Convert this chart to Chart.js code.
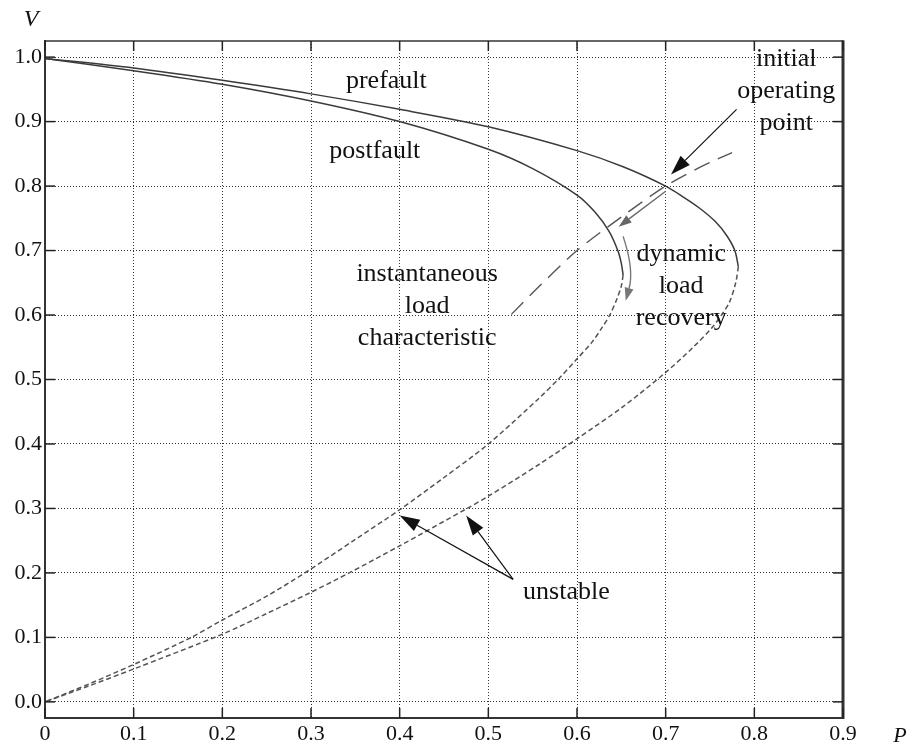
<!DOCTYPE html>
<html><head><meta charset="utf-8">
<script src="https://cdn.jsdelivr.net/npm/chart.js@4/dist/chart.umd.min.js"></script>
<style>html,body{margin:0;padding:0;background:#fff}#wrap{width:912px;height:746px;position:relative}</style>
</head><body><div id="wrap"><canvas id="c" width="912" height="746"></canvas></div>
<script>
// ---- tick values / labels ----
const xTickValues = [0, 0.1, 0.2, 0.3, 0.4, 0.5, 0.6, 0.7, 0.8, 0.9];
const xTickLabels = ["0", "0.1", "0.2", "0.3", "0.4", "0.5", "0.6", "0.7", "0.8", "0.9"];
const yTickValues = [0, 0.1, 0.2, 0.3, 0.4, 0.5, 0.6, 0.7, 0.8, 0.9, 1.0];
const yTickLabels = ["0.0", "0.1", "0.2", "0.3", "0.4", "0.5", "0.6", "0.7", "0.8", "0.9", "1.0"];

// ---- prefault PV curve ----
const prefaultStableP = [0, 0.1, 0.2, 0.3, 0.4, 0.5, 0.6, 0.652, 0.70, 0.72, 0.738, 0.756, 0.769, 0.778, 0.782];
const prefaultStableV = [0.998, 0.983, 0.964, 0.943, 0.919, 0.892, 0.855, 0.830, 0.800, 0.783, 0.766, 0.745, 0.723, 0.700, 0.675];
const prefaultUnstableP = [0.782, 0.779, 0.772, 0.763, 0.752, 0.731, 0.70, 0.652, 0.6, 0.558, 0.5, 0.476, 0.4, 0.343, 0.3, 0.25, 0.2, 0.1, 0.05, 0];
const prefaultUnstableV = [0.675, 0.650, 0.620, 0.600, 0.580, 0.550, 0.511, 0.458, 0.408, 0.369, 0.319, 0.300, 0.242, 0.200, 0.170, 0.137, 0.105, 0.051, 0.025, 0.000];

// ---- postfault PV curve ----
const postfaultStableP = [0, 0.1, 0.2, 0.3, 0.4, 0.5, 0.55, 0.6, 0.62, 0.636, 0.646, 0.650, 0.652];
const postfaultStableV = [0.998, 0.979, 0.958, 0.932, 0.900, 0.857, 0.827, 0.786, 0.760, 0.730, 0.700, 0.680, 0.662];
const postfaultUnstableP = [0.652, 0.650, 0.645, 0.637, 0.628, 0.617, 0.6, 0.58, 0.558, 0.5, 0.45, 0.4, 0.35, 0.293, 0.25, 0.2, 0.165, 0.1, 0.05, 0];
const postfaultUnstableV = [0.662, 0.645, 0.625, 0.600, 0.580, 0.558, 0.532, 0.502, 0.472, 0.400, 0.348, 0.298, 0.252, 0.200, 0.164, 0.127, 0.100, 0.058, 0.028, 0.000];

// ---- instantaneous load characteristic ----
const loadCharP = [0.526, 0.56, 0.6, 0.65, 0.70, 0.74, 0.775];
const loadCharV = [0.601, 0.648, 0.700, 0.752, 0.800, 0.830, 0.852];

// ---- annotations (data coordinates) ----
const textNotes = [
  { lines: ["prefault"], p: 0.385, v: 0.952 },
  { lines: ["postfault"], p: 0.372, v: 0.844 },
  { lines: ["initial", "operating", "point"], p: 0.836, v: 0.986 },
  { lines: ["instantaneous", "load", "characteristic"], p: 0.431, v: 0.653 },
  { lines: ["dynamic", "load", "recovery"], p: 0.7175, v: 0.684 },
  { lines: ["unstable"], p: 0.588, v: 0.160 }
];
const arrowNotes = [
  { from: [0.780, 0.919], to: [0.706, 0.818], color: "#111", head: 20, half: 6.5, lw: 1.2 },
  { from: [0.528, 0.190], to: [0.400, 0.289], color: "#111", head: 20, half: 6.5, lw: 1.2 },
  { from: [0.528, 0.190], to: [0.475, 0.289], color: "#111", head: 20, half: 6.5, lw: 1.2 },
  { from: [0.700, 0.792], to: [0.647, 0.737], color: "#666", head: 13, half: 4.5, lw: 1.3 }
];
const curvedArrow = { from: [0.652, 0.722], ctrl: [0.6645, 0.671], to: [0.655, 0.622] };

const toXY = (ps, vs) => ps.map((p, i) => ({ x: p, y: vs[i] }));

const FONT = '"Liberation Serif", "Times New Roman", serif';

function drawArrow(ctx, x1, y1, x2, y2, color, lw, hl, hw) {
  const ang = Math.atan2(y2 - y1, x2 - x1);
  const bx = x2 - hl * Math.cos(ang), by = y2 - hl * Math.sin(ang);
  ctx.strokeStyle = color; ctx.fillStyle = color; ctx.lineWidth = lw; ctx.setLineDash([]);
  ctx.beginPath(); ctx.moveTo(x1, y1); ctx.lineTo(bx, by); ctx.stroke();
  ctx.beginPath(); ctx.moveTo(x2, y2);
  ctx.lineTo(bx + hw * Math.sin(ang), by - hw * Math.cos(ang));
  ctx.lineTo(bx - hw * Math.sin(ang), by + hw * Math.cos(ang));
  ctx.closePath(); ctx.fill();
}

const annotPlugin = {
  id: 'annot',
  afterDraw(chart) {
    const { ctx, chartArea: a, scales: { x, y } } = chart;
    ctx.save();
    ctx.setLineDash([]);
    ctx.strokeStyle = '#333';
    ctx.lineWidth = 1.5;
    ctx.beginPath(); ctx.moveTo(a.left, a.top); ctx.lineTo(a.right, a.top); ctx.stroke();
    ctx.lineWidth = 3;
    ctx.beginPath(); ctx.moveTo(a.right, a.top - 0.75); ctx.lineTo(a.right, a.bottom + 1); ctx.stroke();
    ctx.strokeStyle = '#222'; ctx.lineWidth = 1.5;
    const tl = 10;
    xTickValues.forEach(v => {
      const px = x.getPixelForValue(v);
      ctx.beginPath(); ctx.moveTo(px, a.bottom); ctx.lineTo(px, a.bottom - tl); ctx.stroke();
      ctx.beginPath(); ctx.moveTo(px, a.top); ctx.lineTo(px, a.top + tl); ctx.stroke();
    });
    yTickValues.forEach(v => {
      const py = y.getPixelForValue(v);
      ctx.beginPath(); ctx.moveTo(a.left, py); ctx.lineTo(a.left + tl, py); ctx.stroke();
      ctx.beginPath(); ctx.moveTo(a.right, py); ctx.lineTo(a.right - tl, py); ctx.stroke();
    });
    arrowNotes.forEach(n => {
      drawArrow(ctx, x.getPixelForValue(n.from[0]), y.getPixelForValue(n.from[1]),
        x.getPixelForValue(n.to[0]), y.getPixelForValue(n.to[1]), n.color, n.lw, n.head, n.half);
    });
    const c0 = [x.getPixelForValue(curvedArrow.from[0]), y.getPixelForValue(curvedArrow.from[1])];
    const c1 = [x.getPixelForValue(curvedArrow.ctrl[0]), y.getPixelForValue(curvedArrow.ctrl[1])];
    const c2 = [x.getPixelForValue(curvedArrow.to[0]), y.getPixelForValue(curvedArrow.to[1])];
    ctx.strokeStyle = '#777'; ctx.fillStyle = '#777'; ctx.lineWidth = 1.4;
    const ang = Math.atan2(c2[1] - c1[1], c2[0] - c1[0]);
    const hl = 13, hw = 4.5;
    const bx = c2[0] - hl * Math.cos(ang), by = c2[1] - hl * Math.sin(ang);
    ctx.beginPath(); ctx.moveTo(c0[0], c0[1]); ctx.quadraticCurveTo(c1[0], c1[1], bx, by); ctx.stroke();
    ctx.beginPath(); ctx.moveTo(c2[0], c2[1]);
    ctx.lineTo(bx + hw * Math.sin(ang), by - hw * Math.cos(ang));
    ctx.lineTo(bx - hw * Math.sin(ang), by + hw * Math.cos(ang));
    ctx.closePath(); ctx.fill();
    ctx.fillStyle = '#111';
    ctx.font = '26px ' + FONT;
    ctx.textAlign = 'center'; ctx.textBaseline = 'alphabetic';
    textNotes.forEach(n => {
      const px = x.getPixelForValue(n.p), py = y.getPixelForValue(n.v);
      n.lines.forEach((t, i) => ctx.fillText(t, px, py + i * 32));
    });
    ctx.font = 'italic 24px ' + FONT;
    ctx.textAlign = 'center';
    ctx.fillText('V', 31, 26);
    ctx.font = 'italic 22px ' + FONT;
    ctx.fillText('P', 900, 742);
    ctx.restore();
  }
};

const gridStyle = { color: '#333', lineWidth: 1, drawTicks: false };
const borderStyle = { display: true, color: '#333', width: 2, dash: [1, 2] };

new Chart(document.getElementById('c'), {
  type: 'scatter',
  data: {
    datasets: [
      { data: toXY(prefaultStableP, prefaultStableV), borderColor: '#3a3a3a', borderWidth: 1.5 },
      { data: toXY(prefaultUnstableP, prefaultUnstableV), borderColor: '#555', borderWidth: 1.5, borderDash: [5, 3] },
      { data: toXY(postfaultStableP, postfaultStableV), borderColor: '#3a3a3a', borderWidth: 1.5 },
      { data: toXY(postfaultUnstableP, postfaultUnstableV), borderColor: '#555', borderWidth: 1.5, borderDash: [5, 3] },
      { data: toXY(loadCharP, loadCharV), borderColor: '#555', borderWidth: 1.4, borderDash: [17, 9] }
    ].map(d => Object.assign({ showLine: true, pointRadius: 0, fill: false, tension: 0.3 }, d))
  },
  options: {
    responsive: false,
    animation: false,
    devicePixelRatio: 1,
    events: [],
    layout: { padding: { left: 0, right: 69, top: 41, bottom: 0 } },
    plugins: { legend: { display: false }, tooltip: { enabled: false }, title: { display: false } },
    scales: {
      x: {
        type: 'linear', min: 0, max: 0.9,
        grid: gridStyle, border: borderStyle,
        afterBuildTicks: s => { s.ticks = xTickValues.map(v => ({ value: v })); },
        afterFit: s => { s.height = 28; },
        ticks: {
          color: '#111', font: { family: FONT, size: 22 }, padding: 3, maxRotation: 0, autoSkip: false,
          callback: (v, i) => xTickLabels[i]
        }
      },
      y: {
        type: 'linear', min: -0.025, max: 1.025,
        grid: gridStyle, border: borderStyle,
        afterBuildTicks: s => { s.ticks = yTickValues.map(v => ({ value: v })); },
        afterFit: s => { s.width = 45; },
        ticks: {
          color: '#111', font: { family: FONT, size: 22 }, padding: 3, autoSkip: false,
          callback: (v, i) => yTickLabels[i]
        }
      }
    }
  },
  plugins: [annotPlugin]
});
</script>
</body></html>
